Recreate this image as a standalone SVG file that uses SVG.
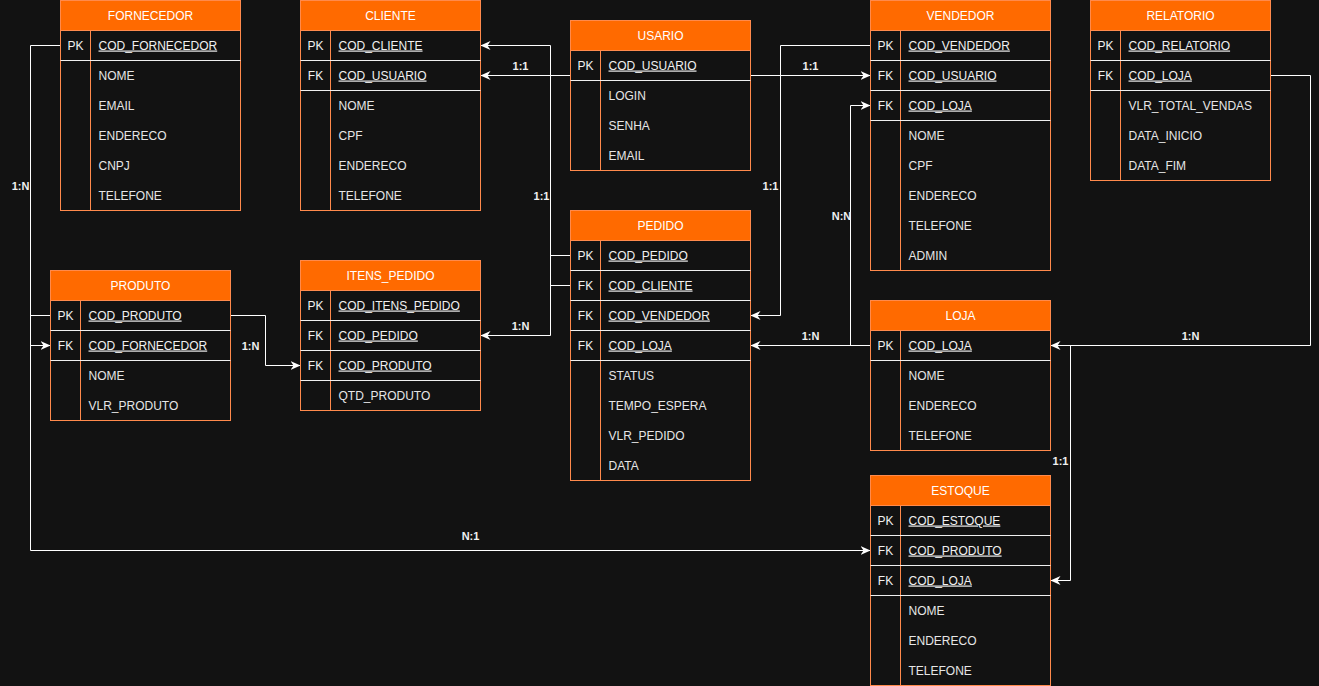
<svg xmlns="http://www.w3.org/2000/svg" width="1319" height="686" viewBox="0 0 1319 686">
<style>
.hdr{fill:#ff6a00;stroke:#ff8a4c;stroke-width:1}
.body{fill:#121212;stroke:#ff8a4c;stroke-width:1}
.div{stroke:#ff8a4c;stroke-width:1}
.sep{stroke:#f0f0f0;stroke-width:1}
.ht{font-family:"Liberation Sans",Arial,sans-serif;font-size:12px;fill:#ffffff;text-anchor:middle}
.k{font-family:"Liberation Sans",Arial,sans-serif;font-size:12px;fill:#f0f0f0;text-anchor:middle}
.f{font-family:"Liberation Sans",Arial,sans-serif;font-size:12px;fill:#e6e6e6}
.u{text-decoration:underline;fill:#f0f0f0}
.c{fill:none;stroke:#ffffff;stroke-width:1}
.lbl{font-family:"Liberation Sans",Arial,sans-serif;font-size:11px;font-weight:bold;fill:#f0f0f0;text-anchor:middle}
</style>
<defs>
<marker id="arr" markerUnits="userSpaceOnUse" markerWidth="10" markerHeight="10" viewBox="0 0 10 10" refX="10" refY="5" orient="auto">
<path d="M0,0.5 L10,5 L0,9.5 L3,5 Z" fill="#ffffff"/>
</marker>
</defs>
<rect x="0" y="0" width="1319" height="686" fill="#121212"/>
<g transform="translate(0.5,0.5)">
<g id="connectors">
<path class="c" d="M60,45 H30 V345 H50" marker-end="url(#arr)"/>
<path class="c" d="M50,315 H30 V550 H870" marker-end="url(#arr)"/>
<path class="c" d="M230,315 H265 V365 H300" marker-end="url(#arr)"/>
<path class="c" d="M570,255 H550 V335 H480" marker-end="url(#arr)"/>
<path class="c" d="M570,285 H550 V45 H480" marker-end="url(#arr)"/>
<path class="c" d="M570,75 H480" marker-end="url(#arr)"/>
<path class="c" d="M750,75 H870" marker-end="url(#arr)"/>
<path class="c" d="M870,45 H780 V315 H750" marker-end="url(#arr)"/>
<path class="c" d="M870,345 H750" marker-end="url(#arr)"/>
<path class="c" d="M850,345 V105 H870" marker-end="url(#arr)"/>
<path class="c" d="M1270,75 H1310 V345 H1050" marker-end="url(#arr)"/>
<path class="c" d="M1070,345 V580 H1050" marker-end="url(#arr)"/>
<text class="lbl" x="20" y="189">1:N</text>
<text class="lbl" x="470" y="539">N:1</text>
<text class="lbl" x="250" y="349">1:N</text>
<text class="lbl" x="520" y="329">1:N</text>
<text class="lbl" x="541" y="199">1:1</text>
<text class="lbl" x="520" y="69">1:1</text>
<text class="lbl" x="810" y="69">1:1</text>
<text class="lbl" x="770" y="189">1:1</text>
<text class="lbl" x="810" y="339">1:N</text>
<text class="lbl" x="841" y="219">N:N</text>
<text class="lbl" x="1190" y="339">1:N</text>
<text class="lbl" x="1060" y="464">1:1</text>
</g>
<g id="fornecedor">
<rect class="hdr" x="60" y="0" width="180" height="30"/>
<text class="ht" x="150" y="19">FORNECEDOR</text>
<rect class="body" x="60" y="30" width="180" height="180"/>
<line class="div" x1="90" y1="30" x2="90" y2="210"/>
<line class="sep" x1="60" y1="60" x2="240" y2="60"/>
<text class="k" x="75" y="49">PK</text>
<text class="f u" x="98" y="49">COD_FORNECEDOR</text>
<text class="f" x="98" y="79">NOME</text>
<text class="f" x="98" y="109">EMAIL</text>
<text class="f" x="98" y="139">ENDERECO</text>
<text class="f" x="98" y="169">CNPJ</text>
<text class="f" x="98" y="199">TELEFONE</text>
</g>
<g id="cliente">
<rect class="hdr" x="300" y="0" width="180" height="30"/>
<text class="ht" x="390" y="19">CLIENTE</text>
<rect class="body" x="300" y="30" width="180" height="180"/>
<line class="div" x1="330" y1="30" x2="330" y2="210"/>
<line class="sep" x1="300" y1="60" x2="480" y2="60"/>
<line class="sep" x1="300" y1="90" x2="480" y2="90"/>
<text class="k" x="315" y="49">PK</text>
<text class="f u" x="338" y="49">COD_CLIENTE</text>
<text class="k" x="315" y="79">FK</text>
<text class="f u" x="338" y="79">COD_USUARIO</text>
<text class="f" x="338" y="109">NOME</text>
<text class="f" x="338" y="139">CPF</text>
<text class="f" x="338" y="169">ENDERECO</text>
<text class="f" x="338" y="199">TELEFONE</text>
</g>
<g id="usario">
<rect class="hdr" x="570" y="20" width="180" height="30"/>
<text class="ht" x="660" y="39">USARIO</text>
<rect class="body" x="570" y="50" width="180" height="120"/>
<line class="div" x1="600" y1="50" x2="600" y2="170"/>
<line class="sep" x1="570" y1="80" x2="750" y2="80"/>
<text class="k" x="585" y="69">PK</text>
<text class="f u" x="608" y="69">COD_USUARIO</text>
<text class="f" x="608" y="99">LOGIN</text>
<text class="f" x="608" y="129">SENHA</text>
<text class="f" x="608" y="159">EMAIL</text>
</g>
<g id="vendedor">
<rect class="hdr" x="870" y="0" width="180" height="30"/>
<text class="ht" x="960" y="19">VENDEDOR</text>
<rect class="body" x="870" y="30" width="180" height="240"/>
<line class="div" x1="900" y1="30" x2="900" y2="270"/>
<line class="sep" x1="870" y1="60" x2="1050" y2="60"/>
<line class="sep" x1="870" y1="90" x2="1050" y2="90"/>
<line class="sep" x1="870" y1="120" x2="1050" y2="120"/>
<text class="k" x="885" y="49">PK</text>
<text class="f u" x="908" y="49">COD_VENDEDOR</text>
<text class="k" x="885" y="79">FK</text>
<text class="f u" x="908" y="79">COD_USUARIO</text>
<text class="k" x="885" y="109">FK</text>
<text class="f u" x="908" y="109">COD_LOJA</text>
<text class="f" x="908" y="139">NOME</text>
<text class="f" x="908" y="169">CPF</text>
<text class="f" x="908" y="199">ENDERECO</text>
<text class="f" x="908" y="229">TELEFONE</text>
<text class="f" x="908" y="259">ADMIN</text>
</g>
<g id="relatorio">
<rect class="hdr" x="1090" y="0" width="180" height="30"/>
<text class="ht" x="1180" y="19">RELATORIO</text>
<rect class="body" x="1090" y="30" width="180" height="150"/>
<line class="div" x1="1120" y1="30" x2="1120" y2="180"/>
<line class="sep" x1="1090" y1="60" x2="1270" y2="60"/>
<line class="sep" x1="1090" y1="90" x2="1270" y2="90"/>
<text class="k" x="1105" y="49">PK</text>
<text class="f u" x="1128" y="49">COD_RELATORIO</text>
<text class="k" x="1105" y="79">FK</text>
<text class="f u" x="1128" y="79">COD_LOJA</text>
<text class="f" x="1128" y="109">VLR_TOTAL_VENDAS</text>
<text class="f" x="1128" y="139">DATA_INICIO</text>
<text class="f" x="1128" y="169">DATA_FIM</text>
</g>
<g id="pedido">
<rect class="hdr" x="570" y="210" width="180" height="30"/>
<text class="ht" x="660" y="229">PEDIDO</text>
<rect class="body" x="570" y="240" width="180" height="240"/>
<line class="div" x1="600" y1="240" x2="600" y2="480"/>
<line class="sep" x1="570" y1="270" x2="750" y2="270"/>
<line class="sep" x1="570" y1="300" x2="750" y2="300"/>
<line class="sep" x1="570" y1="330" x2="750" y2="330"/>
<line class="sep" x1="570" y1="360" x2="750" y2="360"/>
<text class="k" x="585" y="259">PK</text>
<text class="f u" x="608" y="259">COD_PEDIDO</text>
<text class="k" x="585" y="289">FK</text>
<text class="f u" x="608" y="289">COD_CLIENTE</text>
<text class="k" x="585" y="319">FK</text>
<text class="f u" x="608" y="319">COD_VENDEDOR</text>
<text class="k" x="585" y="349">FK</text>
<text class="f u" x="608" y="349">COD_LOJA</text>
<text class="f" x="608" y="379">STATUS</text>
<text class="f" x="608" y="409">TEMPO_ESPERA</text>
<text class="f" x="608" y="439">VLR_PEDIDO</text>
<text class="f" x="608" y="469">DATA</text>
</g>
<g id="produto">
<rect class="hdr" x="50" y="270" width="180" height="30"/>
<text class="ht" x="140" y="289">PRODUTO</text>
<rect class="body" x="50" y="300" width="180" height="120"/>
<line class="div" x1="80" y1="300" x2="80" y2="420"/>
<line class="sep" x1="50" y1="330" x2="230" y2="330"/>
<line class="sep" x1="50" y1="360" x2="230" y2="360"/>
<text class="k" x="65" y="319">PK</text>
<text class="f u" x="88" y="319">COD_PRODUTO</text>
<text class="k" x="65" y="349">FK</text>
<text class="f u" x="88" y="349">COD_FORNECEDOR</text>
<text class="f" x="88" y="379">NOME</text>
<text class="f" x="88" y="409">VLR_PRODUTO</text>
</g>
<g id="itens_pedido">
<rect class="hdr" x="300" y="260" width="180" height="30"/>
<text class="ht" x="390" y="279">ITENS_PEDIDO</text>
<rect class="body" x="300" y="290" width="180" height="120"/>
<line class="div" x1="330" y1="290" x2="330" y2="410"/>
<line class="sep" x1="300" y1="320" x2="480" y2="320"/>
<line class="sep" x1="300" y1="350" x2="480" y2="350"/>
<line class="sep" x1="300" y1="380" x2="480" y2="380"/>
<text class="k" x="315" y="309">PK</text>
<text class="f u" x="338" y="309">COD_ITENS_PEDIDO</text>
<text class="k" x="315" y="339">FK</text>
<text class="f u" x="338" y="339">COD_PEDIDO</text>
<text class="k" x="315" y="369">FK</text>
<text class="f u" x="338" y="369">COD_PRODUTO</text>
<text class="f" x="338" y="399">QTD_PRODUTO</text>
</g>
<g id="loja">
<rect class="hdr" x="870" y="300" width="180" height="30"/>
<text class="ht" x="960" y="319">LOJA</text>
<rect class="body" x="870" y="330" width="180" height="120"/>
<line class="div" x1="900" y1="330" x2="900" y2="450"/>
<line class="sep" x1="870" y1="360" x2="1050" y2="360"/>
<text class="k" x="885" y="349">PK</text>
<text class="f u" x="908" y="349">COD_LOJA</text>
<text class="f" x="908" y="379">NOME</text>
<text class="f" x="908" y="409">ENDERECO</text>
<text class="f" x="908" y="439">TELEFONE</text>
</g>
<g id="estoque">
<rect class="hdr" x="870" y="475" width="180" height="30"/>
<text class="ht" x="960" y="494">ESTOQUE</text>
<rect class="body" x="870" y="505" width="180" height="180"/>
<line class="div" x1="900" y1="505" x2="900" y2="685"/>
<line class="sep" x1="870" y1="535" x2="1050" y2="535"/>
<line class="sep" x1="870" y1="565" x2="1050" y2="565"/>
<line class="sep" x1="870" y1="595" x2="1050" y2="595"/>
<text class="k" x="885" y="524">PK</text>
<text class="f u" x="908" y="524">COD_ESTOQUE</text>
<text class="k" x="885" y="554">FK</text>
<text class="f u" x="908" y="554">COD_PRODUTO</text>
<text class="k" x="885" y="584">FK</text>
<text class="f u" x="908" y="584">COD_LOJA</text>
<text class="f" x="908" y="614">NOME</text>
<text class="f" x="908" y="644">ENDERECO</text>
<text class="f" x="908" y="674">TELEFONE</text>
</g>
</g>
</svg>
